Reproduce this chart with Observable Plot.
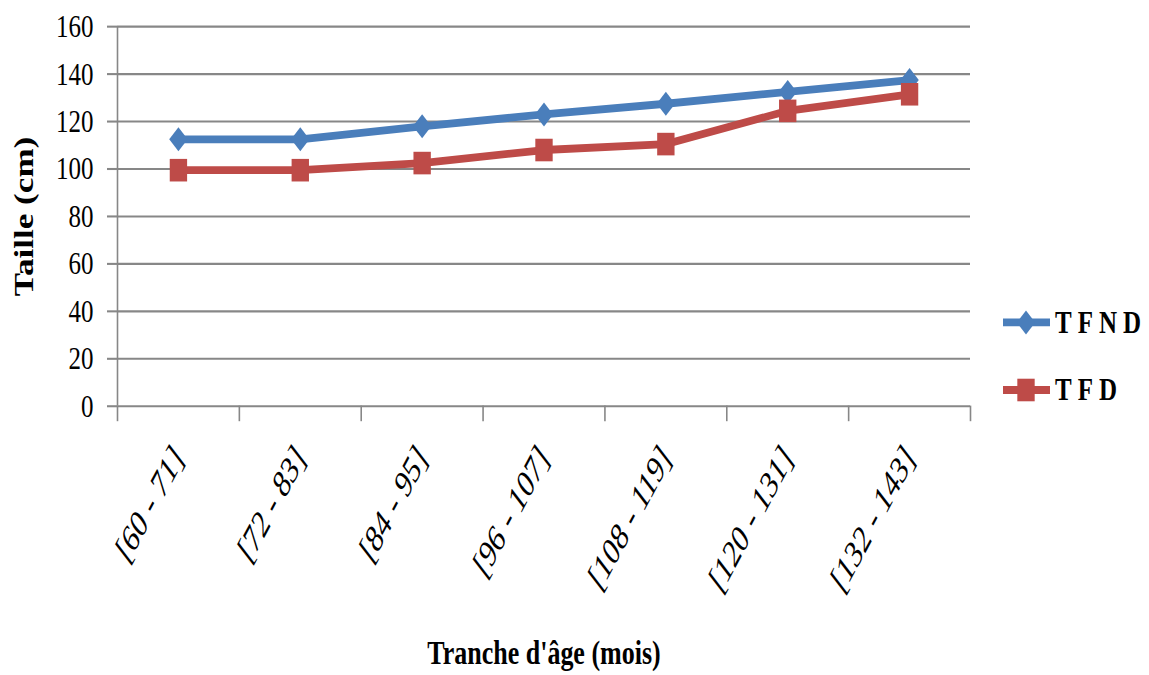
<!DOCTYPE html>
<html>
<head>
<meta charset="utf-8">
<script src="https://cdn.jsdelivr.net/npm/d3@7"></script>
<script src="https://cdn.jsdelivr.net/npm/@observablehq/plot@0.6"></script>
<style>
  html, body { margin: 0; padding: 0; background: #fff; }
  #outer { position: relative; width: 1149px; height: 675px; overflow: hidden; }
  #wrap { position: absolute; left: 0; top: 0; width: 1149px; height: 519px; transform: scaleY(1.3); transform-origin: 0 0; font-family: "Liberation Serif", "Times New Roman", serif; }
  #wrap svg { overflow: visible; }
  #legend { position: absolute; left: 1003px; top: 0; }
  .item { position: absolute; left: 0; display: flex; align-items: center; white-space: nowrap; }
  .item span { font-weight: bold; font-size: 25px; letter-spacing: 6px; margin-left: 4px; color: #000; }
</style>
</head>
<body>
<div id="outer"><div id="wrap"><div id="legend"></div></div></div>
<script>
const categories = ["[60 - 71]", "[72 - 83]", "[84 - 95]", "[96 - 107]", "[108 - 119]", "[120 - 131]", "[132 - 143]"];
const tfnd = [112.5, 112.5, 118, 123, 127.5, 132.5, 137.5];
const tfd = [99.5, 99.5, 102.5, 108, 110.5, 124.5, 131.5];
const yTicks = [0, 20, 40, 60, 80, 100, 120, 140, 160];
const seriesNames = ["TFND", "TFD"];
const colors = ["#4A7EBB", "#BE4B48"];
const symbols = ["diamond2", "square"];
const radii = [8.3, 9.8];

const serif = "Liberation Serif, Times New Roman, serif";
const rows = (vals) => vals.map((v, i) => ({pos: i + 0.5, cat: categories[i], v}));
const boundaries = d3.range(categories.length + 1);
const centers = categories.map((_, i) => i + 0.5);
const grid = "#878787";

const plot = Plot.plot({
  width: 1149,
  height: 519,
  marginLeft: 117,
  marginRight: 179,
  marginTop: 20,
  marginBottom: 207,
  style: {fontFamily: serif, background: "transparent", color: "#000", overflow: "visible"},
  x: {type: "linear", domain: [0, categories.length]},
  y: {domain: [0, 160]},
  marks: [
    Plot.ruleY(yTicks, {stroke: grid, strokeWidth: 1.6}),
    Plot.ruleX([0], {stroke: grid, strokeWidth: 1.6}),
    Plot.axisY({ticks: yTicks, tickSize: 10, tickPadding: 14, fontSize: 25, stroke: grid, strokeWidth: 1.6, fill: "#000", label: null}),
    Plot.axisX({ticks: boundaries, tickSize: 12, tickFormat: () => "", stroke: grid, strokeWidth: 1.6, label: null}),
    Plot.axisX({ticks: centers, tickSize: 0, tickPadding: 34, tickRotate: -55, tickFormat: (d) => categories[Math.round(d - 0.5)], fontSize: 28, fontStyle: "italic", fill: "#000", label: null}),
    Plot.text(["Taille (cm)"], {frameAnchor: "left", textAnchor: "middle", lineAnchor: "middle", rotate: -90, dx: -93, fontSize: 27, fontWeight: "bold", fill: "#000"}),
    Plot.text(["Tranche d'âge (mois)"], {frameAnchor: "bottom", textAnchor: "middle", lineAnchor: "bottom", dy: 198, fontSize: 26, fontWeight: "bold", fill: "#000"}),
    Plot.line(rows(tfnd), {x: "pos", y: "v", stroke: colors[0], strokeWidth: 6}),
    Plot.dot(rows(tfnd), {x: "pos", y: "v", symbol: symbols[0], r: radii[0], fill: colors[0], stroke: "none"}),
    Plot.line(rows(tfd), {x: "pos", y: "v", stroke: colors[1], strokeWidth: 6}),
    Plot.dot(rows(tfd), {x: "pos", y: "v", symbol: symbols[1], r: radii[1], fill: colors[1], stroke: "none"})
  ]
});
const wrap = document.getElementById("wrap");
wrap.insertBefore(plot, wrap.firstChild);

// legend
const legend = document.getElementById("legend");
const tops = [248, 300];
const d3sym = {diamond2: d3.symbolDiamond2, square: d3.symbolSquare};
seriesNames.forEach((name, i) => {
  const item = document.createElement("div");
  item.className = "item";
  item.style.top = (tops[i] - 15) + "px";
  const svg = d3.create("svg").attr("width", 48).attr("height", 30);
  svg.append("line").attr("x1", 0).attr("x2", 47).attr("y1", 15).attr("y2", 15).attr("stroke", colors[i]).attr("stroke-width", 6);
  svg.append("path").attr("transform", "translate(23,15)").attr("d", d3.symbol(d3sym[symbols[i]], Math.PI * radii[i] * radii[i])()).attr("fill", colors[i]);
  item.appendChild(svg.node());
  const s = document.createElement("span");
  s.textContent = name;
  item.appendChild(s);
  legend.appendChild(item);
});
</script>
</body>
</html>
